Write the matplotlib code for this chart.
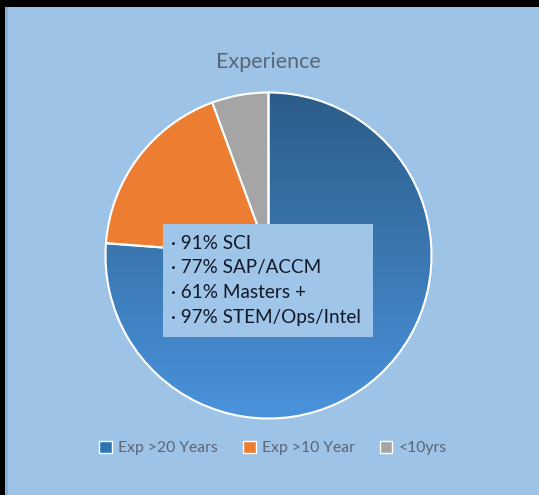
import numpy as np
import matplotlib
matplotlib.use('Agg')
import matplotlib.pyplot as plt
from matplotlib.patches import Patch, Rectangle
from matplotlib.colors import LinearSegmentedColormap

plt.rcParams['font.family'] = ['Lato', 'DejaVu Sans']

# Data
categories = ['Exp >20 Years', 'Exp >10 Year', '<10yrs']
shares = [76.2, 18.2, 5.6]
colors = ['#3B7BBF', '#ED7D31', '#A5A5A5']
highlights = ['· 91% SCI', '· 77% SAP/ACCM', '· 61% Masters +', '· 97% STEM/Ops/Intel']

W, H = 539, 495
fig = plt.figure(figsize=(W / 100, H / 100), dpi=100, facecolor='black')

# light blue chart area (black strip at top and left)
bg = Rectangle((5 / W, 0), 1, 1 - 7 / H, transform=fig.transFigure,
               facecolor='#9DC3E6', edgecolor='none', zorder=-2)
fig.patches.append(bg)
edge = Rectangle((5 / W, 0), 3 / W, 1 - 7 / H, transform=fig.transFigure,
                 facecolor='#86B0DA', edgecolor='none', zorder=-1)
fig.patches.append(edge)

# pie axes: center (268.5, 255.5) px from top-left, radius 163 px
r = 163
cx, cy = 268.5, H - 255.5
ax = fig.add_axes([(cx - r) / W, (cy - r) / H, 2 * r / W, 2 * r / H])
ax.set_zorder(1)
wedges, _ = ax.pie(shares, colors=colors, startangle=90, counterclock=False,
                   radius=1.0, wedgeprops=dict(edgecolor='white', linewidth=1.5))
ax.set_xlim(-1, 1)
ax.set_ylim(-1, 1)
ax.set_aspect('equal')
ax.axis('off')

# blue wedge gets a vertical gradient
cmap = LinearSegmentedColormap.from_list('bl', ['#4A93DC', '#2C5C88'])
grad = np.linspace(0, 1, 256).reshape(-1, 1)
img = ax.imshow(grad, cmap=cmap, extent=(-1, 1, -1, 1), origin='lower',
                aspect='auto', zorder=0.5)
img.set_clip_path(wedges[0])
wedges[0].set_facecolor('none')
wedges[0].set_zorder(2)

# title
fig.text(268 / W, 1 - 62 / H, 'Experience', ha='center', va='center',
         fontsize=15.5, color='#5B6675')

# text box
bx0, by0, bx1, by1 = 163, 224, 373, 337
box = Rectangle((bx0 / W, 1 - by1 / H), (bx1 - bx0) / W, (by1 - by0) / H,
                transform=fig.transFigure, facecolor='#9FC5E8', edgecolor='none', zorder=3)
fig.patches.append(box)
for i, line in enumerate(highlights):
    fig.text(171 / W, 1 - (243 + 25 * i) / H, line, ha='left', va='center',
             fontsize=13.6, color='#111827', zorder=4)

# legend
handles = [Patch(facecolor=c, edgecolor='white', linewidth=1.0) for c in ['#2E75B6', '#ED7D31', '#A5A5A5']]
leg = fig.legend(handles, categories, loc='center', bbox_to_anchor=(273 / W, 1 - 448 / H),
                 ncol=3, frameon=False, fontsize=11.3, labelcolor='#5B6675',
                 handlelength=0.8, handleheight=0.8, handletextpad=0.4, columnspacing=1.6)
leg.set_zorder(5)

fig.savefig('out.png', dpi=100, facecolor=fig.get_facecolor())
